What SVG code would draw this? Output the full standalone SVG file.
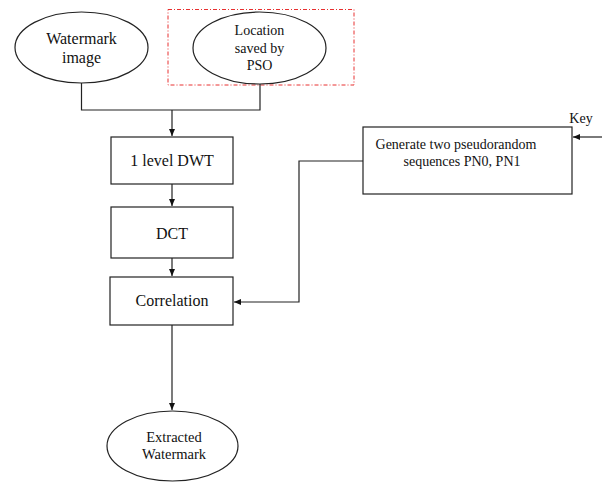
<svg xmlns="http://www.w3.org/2000/svg" width="602" height="482" viewBox="0 0 602 482">
<style>
.n{fill:#fff;stroke:#222;stroke-width:1.2}
.t{font-family:"Liberation Serif","Times New Roman",serif;fill:#111;text-anchor:middle}
.c{fill:none;stroke:#222;stroke-width:1.2}
</style>
<defs>
<marker id="ah" markerWidth="8" markerHeight="8" refX="7" refY="4" orient="auto" markerUnits="userSpaceOnUse">
<path d="M0,1 L7,4 L0,7 Z" fill="#111"/>
</marker>
</defs>
<rect width="602" height="482" fill="#fff"/>
<rect x="168" y="9.5" width="186" height="75.5" fill="none" stroke="#e83030" stroke-width="1" stroke-dasharray="4,2,1,2"/>
<g id="watermark">
<ellipse class="n" cx="81.5" cy="47.5" rx="66.5" ry="35.5"/>
<text class="t" x="81.5" y="43.5" font-size="16">Watermark</text>
<text class="t" x="81.5" y="62.5" font-size="16">image</text>
</g>
<g id="location">
<ellipse class="n" cx="259.5" cy="48" rx="66.5" ry="36"/>
<text class="t" x="259.5" y="35" font-size="14">Location</text>
<text class="t" x="259.5" y="52.5" font-size="14">saved by</text>
<text class="t" x="259.5" y="69.5" font-size="14">PSO</text>
</g>
<g id="dwt">
<rect class="n" x="111" y="137" width="122" height="47"/>
<text class="t" x="172" y="166" font-size="16">1 level DWT</text>
</g>
<g id="dct">
<rect class="n" x="111" y="207" width="122" height="51"/>
<text class="t" x="172" y="239" font-size="16">DCT</text>
</g>
<g id="correlation">
<rect class="n" x="110" y="277" width="123" height="48"/>
<text class="t" x="172" y="306" font-size="16">Correlation</text>
</g>
<g id="generate">
<rect class="n" x="363" y="127" width="209" height="67"/>
<text class="t" x="456" y="149" font-size="14">Generate two pseudorandom</text>
<text class="t" x="462" y="166" font-size="14">sequences PN0, PN1</text>
</g>
<g id="extracted">
<ellipse class="n" cx="172.5" cy="446" rx="65.5" ry="35"/>
<text class="t" x="174" y="442" font-size="14.5">Extracted</text>
<text class="t" x="174" y="459" font-size="14.5">Watermark</text>
</g>
<g id="key">
<text class="t" x="581" y="123" font-size="14">Key</text>
</g>
<g id="connectors">
<path class="c" d="M81.5,83 V110 H260 V84"/>
<path class="c" d="M172,110 V136" marker-end="url(#ah)"/>
<path class="c" d="M172,184 V206" marker-end="url(#ah)"/>
<path class="c" d="M172,258 V276" marker-end="url(#ah)"/>
<path class="c" d="M172,325 V410" marker-end="url(#ah)"/>
<path class="c" d="M363,161 H299 V302 H234" marker-end="url(#ah)"/>
<path class="c" d="M602,137 H573" marker-end="url(#ah)"/>
</g>
</svg>
